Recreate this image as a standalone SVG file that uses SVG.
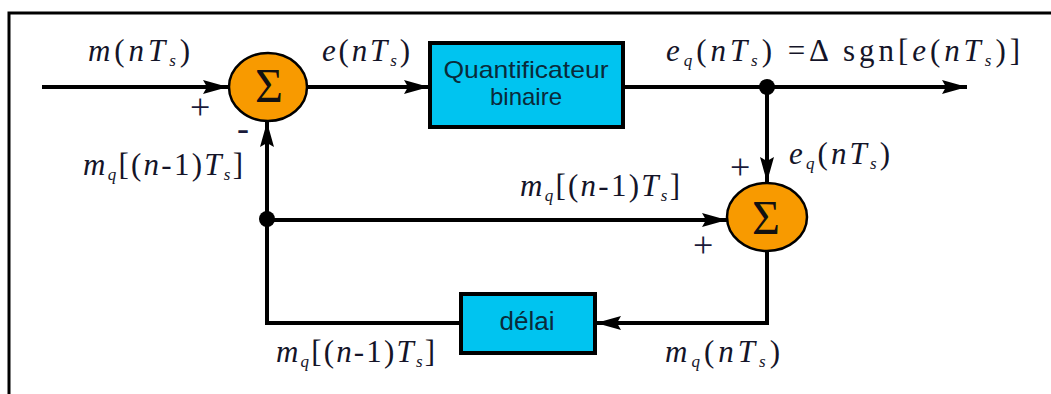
<svg xmlns="http://www.w3.org/2000/svg" width="1051" height="394" viewBox="0 0 1051 394">
<style>
.ln{fill:none;stroke:#000;stroke-width:4}
.sum{fill:#f89a00;stroke:#000;stroke-width:2.5}
.box{fill:#00c4f0;stroke:#000;stroke-width:4}
.sig{font-family:"Liberation Serif",serif;font-size:48px;fill:#111;text-anchor:middle}
.bt{font-family:"Liberation Sans",Arial,sans-serif;font-size:24px;fill:#0a2a3a;text-anchor:middle}
.m{font-family:"Liberation Serif",serif;font-style:italic;font-size:31px;fill:#141428}
.u{font-style:normal}
.s{font-size:17px}
.pm{font-family:"Liberation Serif",serif;font-size:36px;fill:#1a1a3a}
</style>
<defs>
<marker id="ar" markerUnits="userSpaceOnUse" markerWidth="26" markerHeight="18" refX="25" refY="9" orient="auto">
<path d="M0,2 L25,9 L0,16 L4,9 Z" fill="#000"/>
</marker>
</defs>
<path d="M9,394 V13 H1051" fill="none" stroke="#000" stroke-width="3"/>
<g id="connectors">
<path class="ln" d="M42,87 H228" marker-end="url(#ar)"/>
<path class="ln" d="M307,87 H429" marker-end="url(#ar)"/>
<path class="ln" d="M623,87 H967" marker-end="url(#ar)"/>
<path class="ln" d="M767,87 V182" marker-end="url(#ar)"/>
<path class="ln" d="M267,220 H727" marker-end="url(#ar)"/>
<path class="ln" d="M460,323 H267 V122" marker-end="url(#ar)"/>
<path class="ln" d="M767,252 V323 H596" marker-end="url(#ar)"/>
<circle cx="767" cy="87" r="8" fill="#000"/>
<circle cx="267" cy="219" r="8" fill="#000"/>
</g>
<g id="sum1">
<ellipse class="sum" cx="268" cy="87" rx="39" ry="34"/>
<text class="sig" x="269" y="102">Σ</text>
</g>
<g id="sum2">
<ellipse class="sum" cx="767" cy="217" rx="40" ry="34"/>
<text class="sig" x="766" y="234">Σ</text>
</g>
<g id="quantificateur">
<rect class="box" x="430" y="43" width="193" height="84"/>
<text class="bt" x="526" y="78" textLength="165" lengthAdjust="spacingAndGlyphs">Quantificateur</text>
<text class="bt" x="526" y="105">binaire</text>
</g>
<g id="delai">
<rect class="box" x="461" y="294" width="134" height="59"/>
<text class="bt" x="527" y="330" style="font-size:26px">délai</text>
</g>
<g id="labels">
<text class="m" x="88" y="61" textLength="102">m<tspan class="u">(</tspan>nT<tspan class="s" dy="5">s</tspan><tspan class="u" dy="-5">)</tspan></text>
<text class="m" x="322" y="61" textLength="88">e<tspan class="u">(</tspan>nT<tspan class="s" dy="5">s</tspan><tspan class="u" dy="-5">)</tspan></text>
<text class="m" x="666" y="61" textLength="354">e<tspan class="s" dy="5">q</tspan><tspan class="u" dy="-5">(</tspan>nT<tspan class="s" dy="5">s</tspan><tspan class="u" dy="-5">) =Δ sgn[</tspan>e<tspan class="u">(</tspan>nT<tspan class="s" dy="5">s</tspan><tspan class="u" dy="-5">)]</tspan></text>
<text class="m" x="83" y="175" textLength="160">m<tspan class="s" dy="5">q</tspan><tspan class="u" dy="-5">[(</tspan>n<tspan class="u">-1)</tspan>T<tspan class="s" dy="5">s</tspan><tspan class="u" dy="-5">]</tspan></text>
<text class="m" x="789" y="164" textLength="101">e<tspan class="s" dy="5">q</tspan><tspan class="u" dy="-5">(</tspan>nT<tspan class="s" dy="5">s</tspan><tspan class="u" dy="-5">)</tspan></text>
<text class="m" x="520" y="196" textLength="160">m<tspan class="s" dy="5">q</tspan><tspan class="u" dy="-5">[(</tspan>n<tspan class="u">-1)</tspan>T<tspan class="s" dy="5">s</tspan><tspan class="u" dy="-5">]</tspan></text>
<text class="m" x="276" y="362" textLength="159">m<tspan class="s" dy="5">q</tspan><tspan class="u" dy="-5">[(</tspan>n<tspan class="u">-1)</tspan>T<tspan class="s" dy="5">s</tspan><tspan class="u" dy="-5">]</tspan></text>
<text class="m" x="665" y="362" textLength="115">m<tspan class="s" dy="5">q</tspan><tspan class="u" dy="-5">(</tspan>nT<tspan class="s" dy="5">s</tspan><tspan class="u" dy="-5">)</tspan></text>
<text class="pm" x="190" y="119">+</text>
<text class="pm" x="237" y="140">-</text>
<text class="pm" x="730" y="179">+</text>
<text class="pm" x="693" y="257">+</text>
</g>
</svg>
